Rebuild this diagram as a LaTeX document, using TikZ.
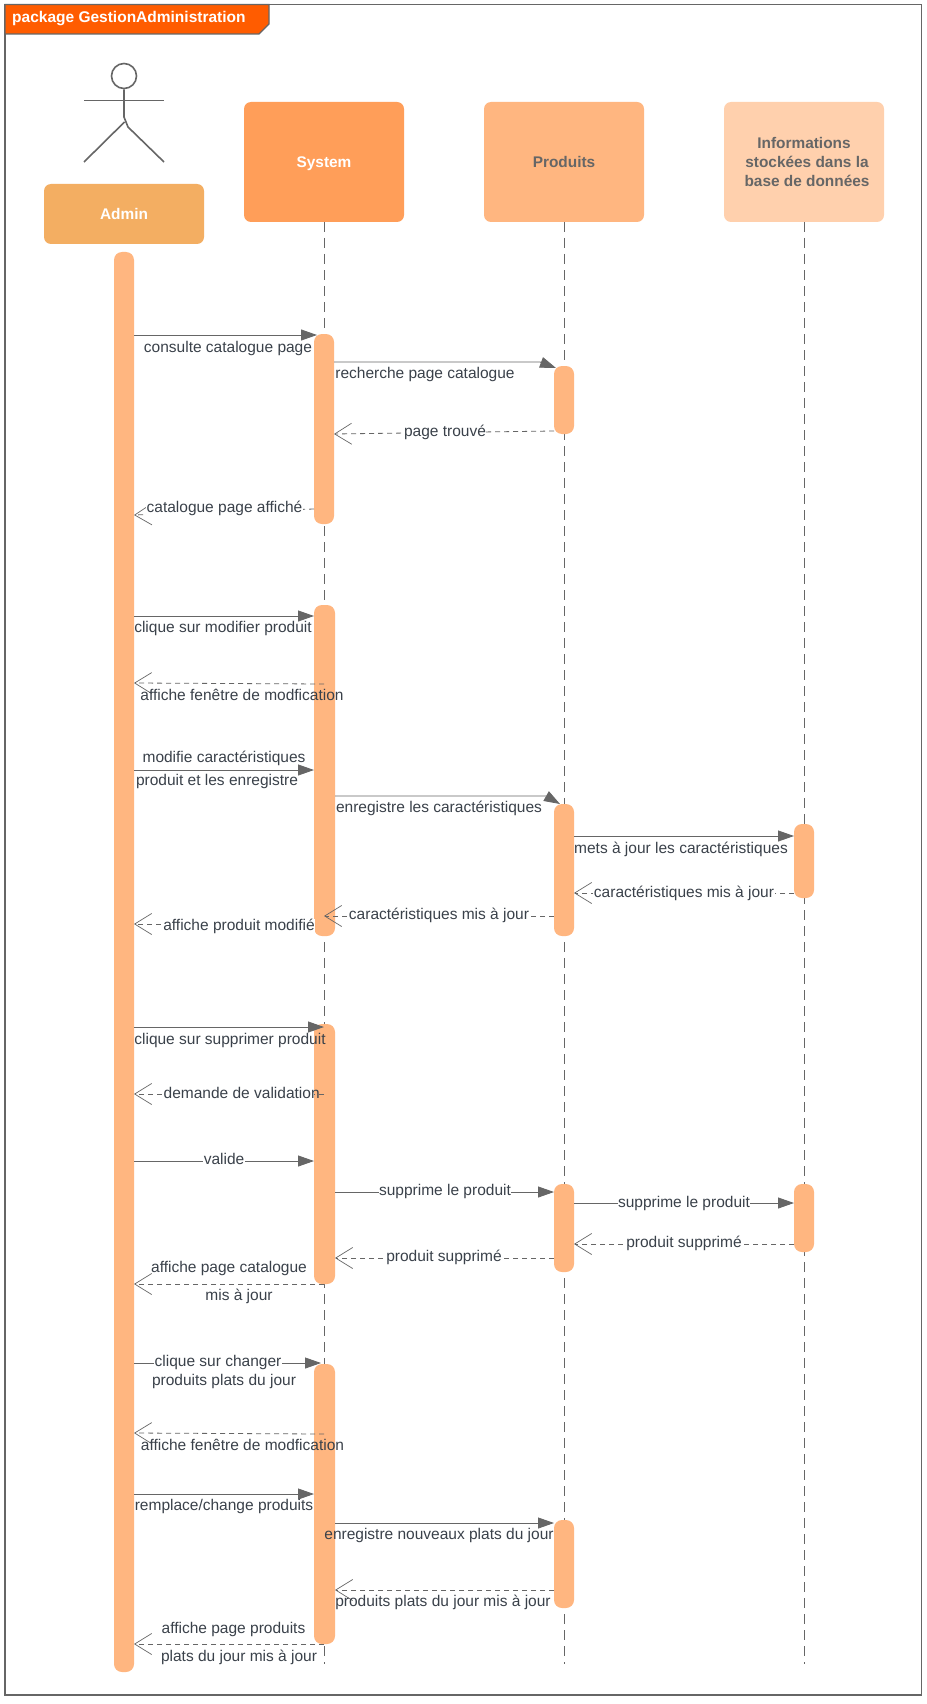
\documentclass[tikz,border=0pt]{standalone}
\usepackage{fontspec}
\setmainfont{Liberation Sans}
\usetikzlibrary{arrows.meta, positioning}
\definecolor{lineGray}{RGB}{102,102,102}
\definecolor{msgText}{RGB}{58,65,74}
\definecolor{tabOrange}{RGB}{255,92,0}
\definecolor{adminFill}{RGB}{243,174,98}
\definecolor{systemFill}{RGB}{255,158,89}
\definecolor{produitFill}{RGB}{255,182,128}
\definecolor{infoFill}{RGB}{255,208,173}
\tikzset{
  headbox/.style={rounded corners=7pt, minimum width=160pt, inner sep=0pt, outer sep=0pt,
                  align=center, font=\fontsize{15.4}{18.6}\selectfont\bfseries},
  actbar/.style={fill=produitFill, rounded corners=8pt, inner sep=0pt, outer sep=0pt},
  lifeline/.style={lineGray, line width=0.9pt, dash pattern=on 10pt off 6pt, xshift=0.4pt},
  syncmsg/.style={lineGray, line width=0.85pt, -{Triangle[length=16pt,width=11pt]}},
  returnmsg/.style={lineGray, line width=0.8pt, dash pattern=on 5pt off 4pt,
                    -{Straight Barb[length=17pt,width=21pt,line width=0.7pt]}},
  msglabel/.style={text=msgText, inner ysep=0pt, inner xsep=0.5pt, text height=11pt,
                   text depth=3pt, yshift=-1pt},
  onlabel/.style={msglabel, fill=white}
}
\begin{document}
\begin{tikzpicture}[x=1pt, y=-1pt, font=\fontsize{15.5}{18}\selectfont]
  \path[use as bounding box, fill=white] (0,0) rectangle (926,1704);
  % frame and tab
  \draw[lineGray, line width=1.2pt] (5,4.5) rectangle (921.5,1695);
  \draw[lineGray, line width=1.2pt, fill=tabOrange]
    (5,4.5) -- (269,4.5) -- (269,24) -- (259,34) -- (5,34) -- cycle;
  \node[anchor=west, text=white, inner sep=0pt, font=\fontsize{15.5}{18}\selectfont\bfseries]
    (frameTitle) at (12,18.5) {package GestionAdministration};

  % actor
  \node[circle, draw=lineGray, line width=1.6pt, minimum size=25pt, inner sep=0pt] (adminHeadCirc) at (124,76) {};
  \draw[lineGray, line width=1.6pt] (adminHeadCirc.south) -- (124,117) -- (128,127) -- (164,162);
  \draw[lineGray, line width=1.6pt] (124.5,122) -- (84,162);
  \draw[lineGray, line width=1.6pt] (84,100.5) -- (164,100.5);

  % headers
  \node[headbox, fill=adminFill, minimum height=60pt, text=white] (adminBox) at (124,214) {Admin};
  \node[headbox, fill=systemFill, minimum height=120pt, text=white, text depth=0pt] (sysHead) at (324,162) {System};
  \node[headbox, fill=produitFill, minimum height=120pt, text=lineGray] (prodHead) at (564,162) {Produits};
  \node[headbox, fill=infoFill, minimum height=120pt, text=lineGray] (infoHead) at (804,162)
    {Informations\\ \hspace*{6pt}stockées dans la\\ \hspace*{6pt}base de données};

  % lifelines
  \foreach \head in {sysHead, prodHead, infoHead} {
    \coordinate (\head End) at (\head.south |- 0,1664);
    \draw[lifeline] (\head.south) -- (\head End);
  }

  % activation bars
  \foreach \name/\x/\w/\top/\bot in {adminBar/124/20/252/1672,
      sysBarA/324/20/334/524, sysBarB/324.5/21/605/936, sysBarC/324.5/21/1024/1284, sysBarD/324.5/21/1364/1644,
      prodBarA/564/20/366/434, prodBarB/564/20/804/936, prodBarC/564/20/1184/1272, prodBarD/564/20/1520/1608,
      infoBarA/804/20/824/898, infoBarB/804/20/1184/1252}
    \node[actbar, minimum width=\w pt, minimum height=\bot-\top] (\name) at (\x,{(\top+\bot)/2}) {};

  % message heights
  \foreach \m/\y in {m1/335, m2/362, m3/431, m3b/434, m4/509, m4b/515, m5/616, m6/684, m6b/683, m7/770, m8/796,
      m9/836, m10/893, m11/916, m12/924, m13/1027, m14/1094, m15/1161, m16/1192, m17/1203, m18/1244,
      m19/1258, m20/1284, m21/1363, m22/1434, m22b/1433, m23/1494, m24/1523, m25/1590, m26/1644}
    \coordinate (\m) at (0,\y);
  \coordinate (m2bend) at (540,362);
  \coordinate (m2end) at (556,368);
  \coordinate (m8bend) at (546,796);
  \coordinate (m8end) at (560,804);

  % calls
  \foreach \src/\dst/\m in {adminBar/sysBarB/m5, adminBar/sysBarB/m7, prodBarB/infoBarA/m9, adminBar/sysBarC/m15,
      sysBarC/prodBarC/m16, prodBarC/infoBarB/m17, adminBar/sysBarD/m23, sysBarD/prodBarD/m24}
    \draw[syncmsg] (\src.east |- \m) -- (\dst.west |- \m);
  \draw[syncmsg] (adminBar.east |- m1) -- ([xshift=3pt]sysBarA.west |- m1);
  \draw[syncmsg] (sysBarA.east |- m2) -- (m2bend) -- (m2end);
  \draw[syncmsg] (sysBarB.east |- m8) -- (m8bend) -- (m8end);
  \draw[syncmsg] (adminBar.east |- m13) -- (sysHead.south |- m13);
  \draw[syncmsg] (adminBar.east |- m21) -- ([xshift=7pt]sysBarD.west |- m21);

  % returns
  \foreach \src/\dst/\m in {infoBarA/prodBarB/m10, sysBarB/adminBar/m12, infoBarB/prodBarC/m18, prodBarC/sysBarC/m19,
      prodBarD/sysBarD/m25}
    \draw[returnmsg] (\src.west |- \m) -- (\dst.east |- \m);
  \draw[returnmsg] (prodBarA.west |- m3) -- (sysBarA.east |- m3b);
  \draw[returnmsg] (sysBarA.west |- m4) -- (adminBar.east |- m4b);
  \draw[returnmsg] (prodBarB.west |- m11) -- (sysHead.south |- m11);
  \foreach \m/\n in {m6/m6b, m14/m14, m20/m20, m22/m22b, m26/m26}
    \draw[returnmsg] (sysHead.south |- \m) -- (adminBar.east |- \n);

  % labels
  \foreach \name/\x/\y/\txt in {
      lblConsulte/228/347/consulte catalogue page,
      lblRecherche/425/373/recherche page catalogue,
      lblCliqueModif/223/627/clique sur modifier produit,
      lblFenetreA/242/695/affiche fenêtre de modfication,
      lblModifie/224/757/modifie caractéristiques,
      lblProduitEt/217/780/produit et les enregistre,
      lblEnregistre/439/807/enregistre les caractéristiques,
      lblMets/681/848/mets à jour les caractéristiques,
      lblCliqueSuppr/230/1039/clique sur supprimer produit,
      lblPageCat/229/1267/affiche page catalogue,
      lblMisAJour/239/1295/mis à jour,
      lblPlats/224/1380/produits plats du jour,
      lblFenetreB/242.5/1445/affiche fenêtre de modfication,
      lblRemplace/224/1505/{remplace/change produits},
      lblNouveaux/439/1534/enregistre nouveaux plats du jour,
      lblPlatsMis/443/1601/produits plats du jour mis à jour,
      lblPageProd/233.5/1628/affiche page produits,
      lblPlatsDu/239/1656/plats du jour mis à jour}
    \node[msglabel] (\name) at (\x,\y) {\txt};
  \foreach \name/\x/\y/\txt in {
      lblTrouve/445/431/page trouvé,
      lblCatAffiche/224.5/507/catalogue page affiché,
      lblCarInfo/684/892/caractéristiques mis à jour,
      lblCarProd/439/914/caractéristiques mis à jour,
      lblAffModif/239/925/affiche produit modifié,
      lblValide/224/1159/valide,
      lblSupprA/445/1190/supprime le produit,
      lblSupprB/684/1202/supprime le produit,
      lblSupprimeB/684/1242/produit supprimé,
      lblSupprimeA/444/1256/produit supprimé,
      lblChanger/218/1361/clique sur changer}
    \node[onlabel] (\name) at (\x,\y) {\txt};
  \node[onlabel, anchor=west] (lblDemande) at (163,1093) {\makebox[150pt][l]{demande de validation}};
\end{tikzpicture}
\end{document}
